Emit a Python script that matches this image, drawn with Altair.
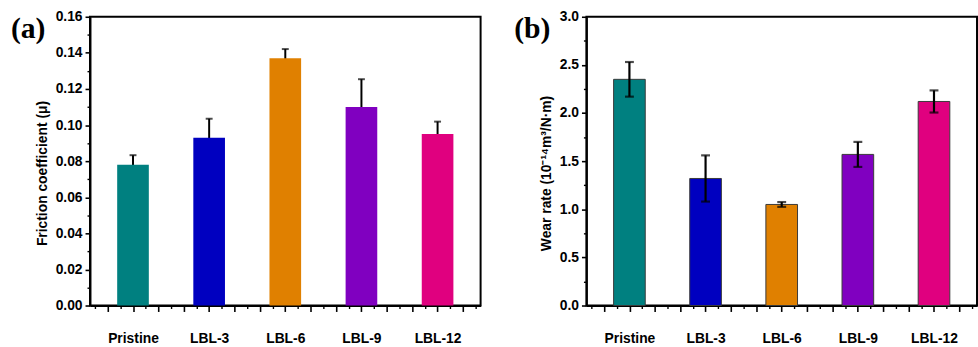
import json
import altair as alt
import pandas as pd

# ---- data ----
samples = ["Pristine", "LBL-3", "LBL-6", "LBL-9", "LBL-12"]
bar_colors = ["#008080", "#0000C0", "#E08000", "#8000C0", "#E0007F"]
friction = [0.078, 0.093, 0.137, 0.110, 0.095]
friction_err = [0.0053, 0.0105, 0.0051, 0.0154, 0.0069]
wear = [2.35, 1.32, 1.05, 1.57, 2.12]
wear_err = [0.18, 0.24, 0.025, 0.13, 0.115]

FONT = "Liberation Sans"
SERIF = "Liberation Serif"
W, H = 395, 292

major_x = [k / 3 for k in range(2, 17)]
minor_x = [0.5 + k / 3 for k in range(0, 16)]
label_expr = ("abs(datum.value - round(datum.value)) < 0.001 ? "
              + json.dumps(samples) + "[round(datum.value) - 1] : ''")


def panel(values, errs, ymax, ystep, yfmt, ytitle, tag, outline, err_w, cap_w, err_on_top, tag_dx):
    df = pd.DataFrame({
        "sample": samples,
        "idx": list(range(1, len(samples) + 1)),
        "v": values,
        "lo": [v - e for v, e in zip(values, errs)],
        "hi": [v + e for v, e in zip(values, errs)],
    })
    n_major = int(round(ymax / ystep))
    major_y = [round(i * ystep, 4) for i in range(n_major + 1)]
    minor_y = [round((i + 0.5) * ystep, 4) for i in range(n_major)]

    xs = alt.Scale(domain=[0.5, 5.5], nice=False, zero=False)
    ys = alt.Scale(domain=[0, ymax], nice=False)

    x_major = alt.Axis(orient="bottom", values=major_x, tickSize=6, tickWidth=1.6,
                       tickColor="black", domainColor="black", domainWidth=2,
                       labelExpr=label_expr, labelFont=FONT, labelFontSize=14,
                       labelFontWeight="bold", labelColor="black", labelPadding=20,
                       labelOverlap=False, labelFlush=False, grid=False, title=None)
    x_minor = alt.Axis(orient="bottom", values=minor_x, tickSize=3, tickWidth=1.4,
                       tickColor="black", domain=False, labels=False, grid=False, title=None)
    y_major = alt.Axis(orient="left", values=major_y, format=yfmt, tickSize=5, tickWidth=1.6,
                       tickColor="black", domainColor="black", domainWidth=2,
                       labelFont=FONT, labelFontSize=14, labelFontWeight="bold",
                       labelColor="black", labelPadding=3, grid=False,
                       title=ytitle, titleFont=FONT, titleFontSize=14, titleFontWeight="bold",
                       titleColor="black", titlePadding=6, titleY=158)
    y_minor = alt.Axis(orient="left", values=minor_y, tickSize=3, tickWidth=1.4,
                       tickColor="black", domain=False, labels=False, grid=False, title=None)

    base = alt.Chart(df)
    bar_kw = dict(size=32)
    if outline:
        bar_kw.update(stroke="#3a3a3a", strokeWidth=1)
    bars = base.mark_bar(**bar_kw).encode(
        x=alt.X("idx:Q", scale=xs, axis=x_major),
        y=alt.Y("v:Q", scale=ys, axis=y_major),
        color=alt.Color("sample:N", scale=alt.Scale(domain=samples, range=bar_colors), legend=None),
    )
    rule = base.mark_rule(color="black", strokeWidth=err_w).encode(
        x=alt.X("idx:Q", scale=xs, axis=x_minor),
        y=alt.Y("lo:Q", scale=ys, axis=y_minor),
        y2="hi:Q",
    )
    cap_hi = base.mark_tick(color="black", orient="horizontal", size=cap_w, thickness=err_w).encode(
        x=alt.X("idx:Q", scale=xs, axis=None),
        y=alt.Y("hi:Q", scale=ys, axis=None),
    )
    cap_lo = base.mark_tick(color="black", orient="horizontal", size=cap_w, thickness=err_w).encode(
        x=alt.X("idx:Q", scale=xs, axis=None),
        y=alt.Y("lo:Q", scale=ys, axis=None),
    )
    tag_layer = alt.Chart(pd.DataFrame({"t": [tag]})).mark_text(
        font=SERIF, fontSize=30, fontWeight="bold", align="left", baseline="alphabetic",
        color="black",
    ).encode(x=alt.value(tag_dx), y=alt.value(21), text="t:N")

    if err_on_top:
        layers = [bars, rule, cap_hi, cap_lo, tag_layer]
    else:
        layers = [rule, cap_hi, cap_lo, bars, tag_layer]
    return alt.layer(*layers).resolve_axis(x="independent", y="independent").properties(
        width=W, height=H)


pa = panel(friction, friction_err, 0.16, 0.02, ".2f", "Friction coefficient (\u03bc)", "(a)",
           False, 2, 7, False, -80)
pb = panel(wear, wear_err, 3.0, 0.5, ".1f",
           "Wear rate (10\u207b\u00b9\u2074m\u00b3/N\u00b7m)", "(b)",
           True, 2.2, 9, True, -73)

chart = alt.hconcat(pa, pb, spacing=32).configure_view(
    stroke="black", strokeWidth=2
).properties(
    padding={"left": 10, "top": 7, "right": 0, "bottom": 0},
    background="white",
)

chart.save("out.html", embed_options={"renderer": "svg", "actions": False})
